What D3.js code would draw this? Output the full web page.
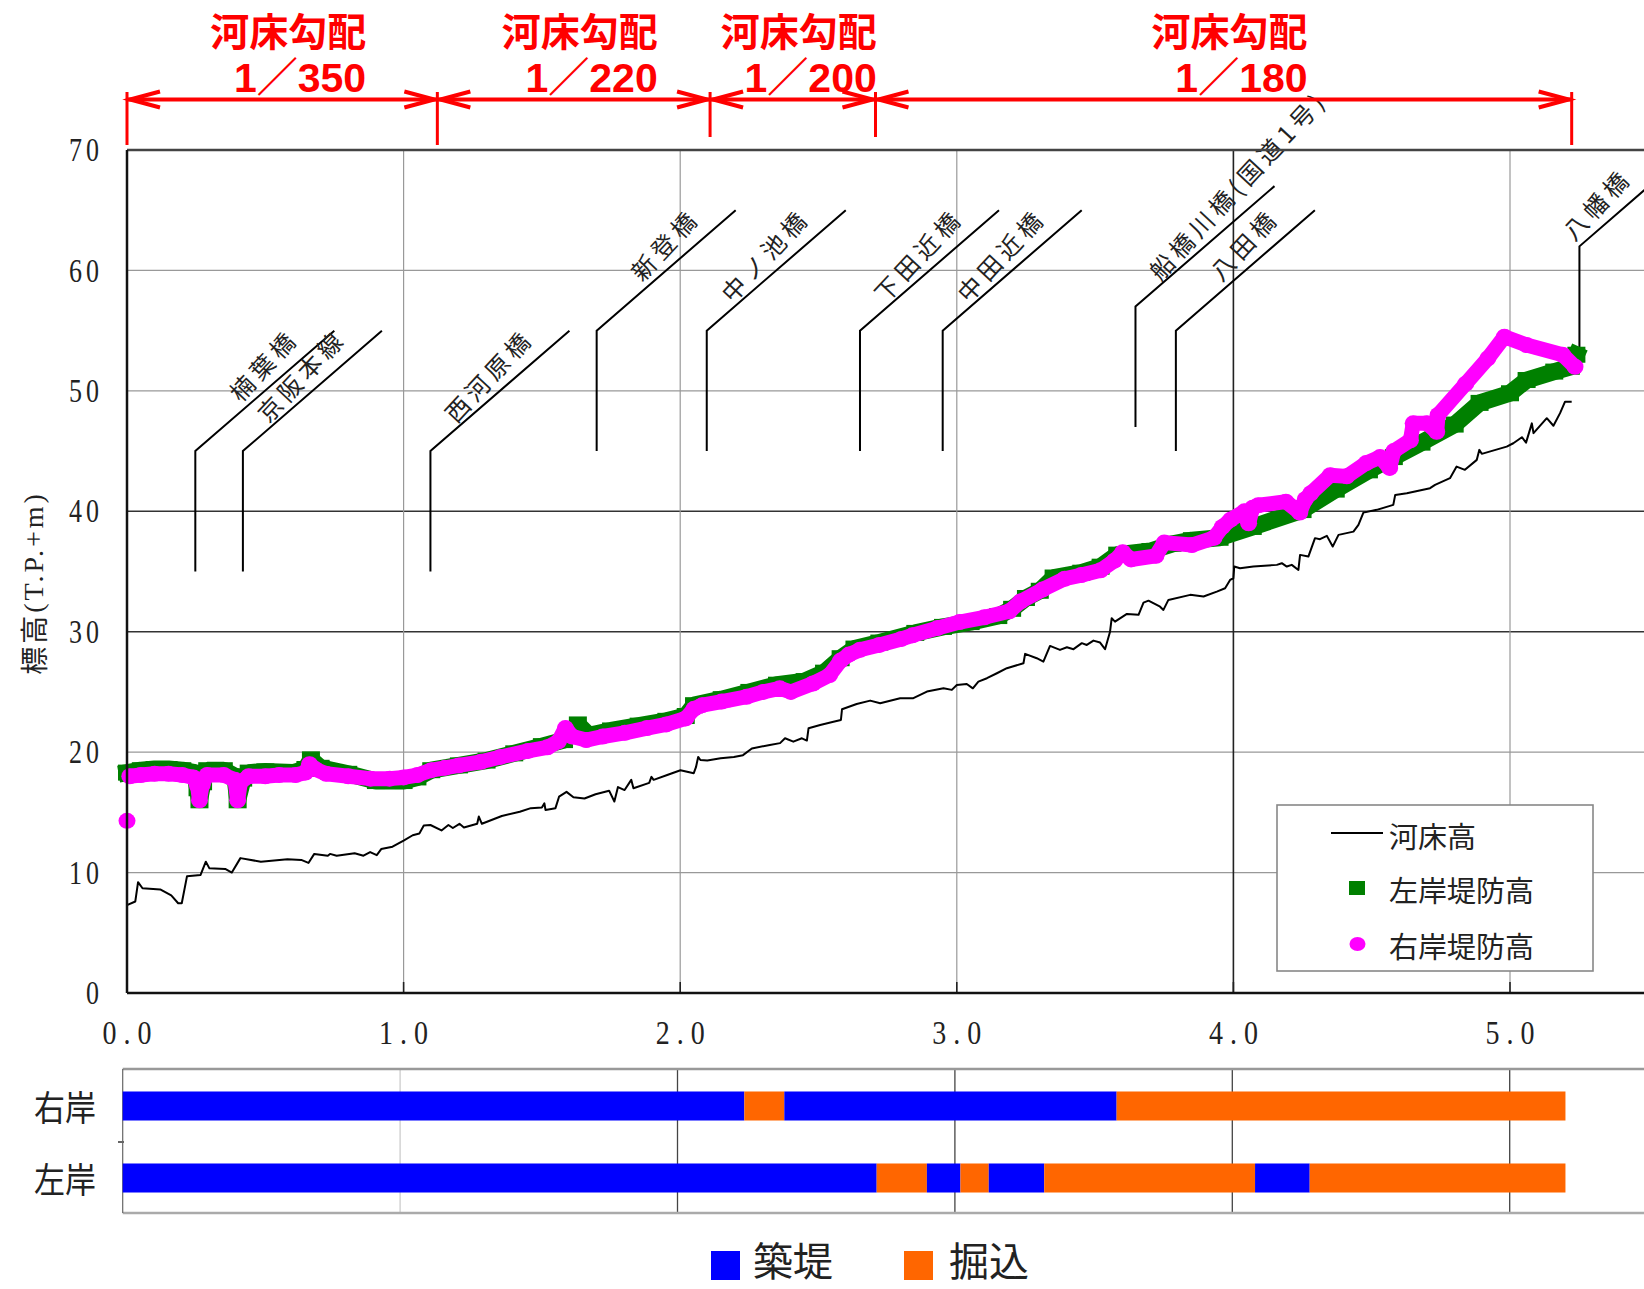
<!DOCTYPE html>
<html>
<head>
<meta charset="utf-8">
<script src="https://d3js.org/d3.v7.min.js"></script>
<style>
  body { margin: 0; background: #ffffff; }
  svg { display: block; }
  text { font-family: "Noto Sans CJK JP", sans-serif; fill: #222222; }
  .num { font-family: "Liberation Serif", "DejaVu Serif", serif; }
  .red { fill: #ff0000; font-weight: 700; }
</style>
</head>
<body>
<div id="chart"></div>
<script>
// ---------------- data ----------------
const xTicks = [0, 1, 2, 3, 4, 5];
const yTicks = [0, 10, 20, 30, 40, 50, 60, 70];

// 河床高 [距離 km, 標高 T.P.+m]
const riverBed = [
  [0.000,7.3],[0.030,7.6],[0.040,9.2],[0.056,8.7],[0.120,8.6],[0.160,8.1],[0.185,7.45],[0.198,7.45],
  [0.217,9.7],[0.266,9.8],[0.285,10.9],[0.298,10.35],[0.355,10.3],[0.379,10.0],[0.410,11.2],[0.484,10.9],
  [0.580,11.1],[0.630,11.05],[0.656,10.8],[0.677,11.55],[0.726,11.4],[0.734,11.55],[0.758,11.4],[0.823,11.6],
  [0.855,11.4],[0.879,11.7],[0.903,11.45],[0.919,11.95],[0.960,12.15],[1.000,12.65],[1.033,13.1],[1.057,13.25],
  [1.073,13.9],[1.097,13.95],[1.137,13.5],[1.162,13.95],[1.178,13.7],[1.202,14.05],[1.218,13.75],[1.266,14.05],
  [1.272,14.65],[1.283,14.05],[1.355,14.7],[1.420,15.05],[1.460,15.35],[1.500,15.4],[1.509,15.75],[1.513,15.2],
  [1.549,15.35],[1.562,16.3],[1.589,16.7],[1.614,16.25],[1.654,16.15],[1.694,16.5],[1.743,16.8],[1.762,15.9],
  [1.775,17.1],[1.799,16.85],[1.823,17.7],[1.831,17.0],[1.888,17.45],[1.896,17.95],[1.904,17.7],[1.953,18.1],
  [2.001,18.5],[2.049,18.25],[2.057,18.75],[2.065,19.6],[2.073,19.35],[2.098,19.3],[2.146,19.5],[2.194,19.6],
  [2.227,19.75],[2.259,20.3],[2.324,20.6],[2.361,20.75],[2.379,21.15],[2.409,20.87],[2.440,21.15],[2.458,20.96],
  [2.464,21.98],[2.506,22.26],[2.554,22.53],[2.581,22.67],[2.585,23.56],[2.638,24.0],[2.687,24.28],[2.723,24.06],
  [2.795,24.48],[2.843,24.48],[2.892,25.03],[2.952,25.3],[2.982,25.17],[3.000,25.58],[3.036,25.66],[3.058,25.3],
  [3.078,25.86],[3.109,26.14],[3.145,26.55],[3.181,26.97],[3.241,27.38],[3.247,28.16],[3.289,27.8],[3.313,27.52],
  [3.337,28.82],[3.373,28.49],[3.398,28.71],[3.422,28.55],[3.452,29.05],[3.470,28.9],[3.494,29.26],[3.518,29.1],
  [3.536,28.55],[3.554,30.0],[3.560,31.12],[3.572,30.84],[3.615,31.48],[3.657,31.4],[3.675,32.42],[3.693,32.58],
  [3.735,32.08],[3.747,31.81],[3.765,32.64],[3.844,33.06],[3.892,32.92],[3.940,33.33],[3.970,33.61],[3.988,34.3],
  [4.000,34.44],[4.003,35.41],[4.024,35.27],[4.072,35.41],[4.157,35.55],[4.175,35.69],[4.193,35.41],[4.211,35.55],
  [4.235,35.13],[4.241,36.38],[4.271,36.24],[4.295,37.77],[4.313,37.68],[4.338,37.96],[4.359,37.07],[4.380,38.04],
  [4.434,38.31],[4.452,38.87],[4.470,39.89],[4.518,40.12],[4.578,40.53],[4.585,41.36],[4.627,41.5],[4.711,41.92],
  [4.729,42.19],[4.783,42.75],[4.807,43.71],[4.837,43.44],[4.880,44.27],[4.889,45.1],[4.898,44.77],[4.988,45.37],
  [5.012,45.65],[5.043,46.15],[5.058,45.7],[5.079,47.3],[5.085,46.49],[5.133,47.73],[5.157,47.1],[5.181,48.15],
  [5.199,49.1],[5.223,49.1]
];

// 左岸堤防高
const leftLevee = [
  [0.00,18.3],[0.05,18.5],[0.10,18.6],[0.15,18.6],[0.20,18.5],[0.245,18.3],[0.255,17.0],[0.262,16.0],
  [0.275,17.5],[0.29,18.5],[0.35,18.5],[0.39,18.0],[0.40,16.0],[0.42,17.8],[0.44,18.3],[0.50,18.4],
  [0.60,18.3],[0.645,18.6],[0.665,19.4],[0.70,18.7],[0.80,18.2],[0.90,17.6],[1.00,17.6],[1.05,17.9],
  [1.10,18.5],[1.20,18.9],[1.30,19.3],[1.40,19.9],[1.50,20.5],[1.58,21.0],[1.63,22.3],[1.67,21.4],
  [1.75,21.8],[1.85,22.2],[1.95,22.6],[2.02,23.0],[2.05,23.9],[2.15,24.4],[2.25,25.0],[2.35,25.6],
  [2.45,25.9],[2.52,26.6],[2.58,27.8],[2.63,28.6],[2.72,29.1],[2.85,29.9],[2.95,30.4],[3.05,30.8],
  [3.15,31.3],[3.20,31.9],[3.25,32.8],[3.30,33.4],[3.35,34.5],[3.45,34.9],[3.52,35.4],[3.58,36.4],
  [3.70,36.7],[3.78,37.3],[3.85,37.6],[3.95,37.8],[4.07,38.7],[4.25,40.1],[4.37,41.8],[4.49,43.4],
  [4.58,44.5],[4.68,45.7],[4.80,47.2],[4.89,49.0],[5.00,49.8],[5.06,50.9],[5.16,51.6],[5.22,52.0],[5.24,53.0]
];

// 右岸堤防高
const rightLevee = [
  [0.01,18.0],[0.05,18.1],[0.10,18.2],[0.15,18.2],[0.20,18.1],[0.24,17.9],[0.255,17.2],[0.262,16.0],
  [0.272,17.3],[0.29,18.1],[0.35,18.1],[0.39,17.7],[0.40,16.0],[0.41,17.5],[0.44,18.0],[0.50,18.0],
  [0.55,18.1],[0.61,18.1],[0.645,18.3],[0.66,19.0],[0.68,18.6],[0.72,18.2],[0.80,18.0],[0.88,17.8],
  [0.95,17.8],[1.00,17.9],[1.05,18.1],[1.10,18.5],[1.15,18.7],[1.20,18.9],[1.28,19.2],[1.35,19.6],
  [1.45,20.1],[1.52,20.4],[1.56,20.9],[1.585,22.0],[1.61,21.3],[1.66,21.0],[1.72,21.3],[1.80,21.6],
  [1.88,22.0],[1.95,22.3],[2.02,22.8],[2.05,23.6],[2.08,23.9],[2.15,24.2],[2.24,24.6],[2.30,25.0],
  [2.36,25.3],[2.40,25.0],[2.48,25.7],[2.54,26.4],[2.58,27.6],[2.61,28.1],[2.65,28.5],[2.72,28.9],
  [2.80,29.4],[2.84,29.7],[2.93,30.3],[3.01,30.8],[3.10,31.2],[3.19,31.7],[3.23,32.5],[3.31,33.5],
  [3.39,34.4],[3.45,34.7],[3.52,35.1],[3.57,35.9],[3.60,36.6],[3.63,36.0],[3.72,36.3],[3.75,37.4],
  [3.85,37.2],[3.93,37.8],[3.96,38.7],[3.99,39.3],[4.04,40.0],[4.055,39.0],[4.07,40.3],[4.09,40.5],
  [4.19,40.8],[4.24,39.9],[4.26,41.0],[4.28,41.5],[4.35,43.0],[4.41,42.9],[4.48,44.0],[4.53,44.5],
  [4.565,43.6],[4.58,45.0],[4.64,45.9],[4.65,47.3],[4.70,47.3],[4.735,46.6],[4.74,48.0],[4.84,50.6],
  [4.92,52.7],[4.98,54.5],[5.06,53.8],[5.19,53.0],[5.235,52.0]
];
const rightLeveeIsolated = [[0.0, 14.3]];

// 河床勾配
const slopeBounds = [0, 1.122, 2.108, 2.706, 5.223];
const slopeRatios = ["1／350", "1／220", "1／200", "1／180"];

// 橋梁
const bridgeNames  = ["楠葉橋", "京阪本線", "西河原橋", "新登橋", "中ノ池橋", "下田近橋", "中田近橋", "船橋川橋(国道1号)", "八田橋", "八幡橋"];
const bridgeKm     = [0.247, 0.419, 1.097, 1.698, 2.096, 2.650, 2.949, 3.646, 3.792, 5.251];
const bridgeBase   = [35, 35, 35, 45, 45, 45, 45, 47, 45, 53];
const bridgeCorner = [45, 45, 45, 55, 55, 55, 55, 57, 55, 62];
const bridgeTop    = [55, 55, 55, 65, 65, 65, 65, 67, 65, 67];

// 築堤・掘込区間
const banks = ["右岸", "左岸"];
const bankTypes = ["築堤", "掘込"];
const rightBankSegs = [[0, 2.241, "築堤"], [2.241, 2.385, "掘込"], [2.385, 3.583, "築堤"], [3.583, 5.201, "掘込"]];
const leftBankSegs = [[0, 2.718, "築堤"], [2.718, 2.899, "掘込"], [2.899, 3.020, "築堤"], [3.020, 3.122, "掘込"],
                      [3.122, 3.322, "築堤"], [3.322, 4.082, "掘込"], [4.082, 4.279, "築堤"], [4.279, 5.201, "掘込"]];

// ---------------- layout ----------------
const W = 1644, H = 1289;
const svg = d3.select("#chart").append("svg").attr("width", W).attr("height", H);

const x = d3.scaleLinear().domain([0, 5.5]).range([127, 127 + 5.5 * 276.6]);
const y = d3.scaleLinear().domain([0, 70]).range([993, 150]);

// grid
const darkY = v => v === 30 || v === 40;
svg.append("g").selectAll("line")
  .data(yTicks.filter(v => v > 0 && v < 70))
  .join("line")
  .attr("x1", x(0)).attr("x2", W)
  .attr("y1", d => y(d)).attr("y2", d => y(d))
  .attr("stroke", d => darkY(d) ? "#333" : "#999")
  .attr("stroke-width", d => darkY(d) ? 1.6 : 1.2);

svg.append("g").selectAll("line")
  .data(xTicks.filter(v => v > 0))
  .join("line")
  .attr("x1", d => x(d)).attr("x2", d => x(d))
  .attr("y1", y(70)).attr("y2", y(0))
  .attr("stroke", d => d === 4 ? "#222" : "#999")
  .attr("stroke-width", d => d === 4 ? 1.6 : 1.2);

// small ticks on the bottom axis
svg.append("g").selectAll("line")
  .data(xTicks.filter(v => v > 0))
  .join("line")
  .attr("x1", d => x(d)).attr("x2", d => x(d))
  .attr("y1", y(0) - 11).attr("y2", y(0))
  .attr("stroke", "#222").attr("stroke-width", 1.6);

// legend box (white, over the grid)
const lg = svg.append("g");
lg.append("rect").attr("x", 1277).attr("y", 805).attr("width", 316).attr("height", 166)
  .attr("fill", "#fff").attr("stroke", "#888").attr("stroke-width", 1.6);
lg.append("line").attr("x1", 1331).attr("x2", 1383).attr("y1", 833).attr("y2", 833)
  .attr("stroke", "#000").attr("stroke-width", 2);
lg.append("rect").attr("x", 1349).attr("y", 881).attr("width", 16).attr("height", 14).attr("fill", "#008000");
lg.append("ellipse").attr("cx", 1357.5).attr("cy", 944).attr("rx", 8).attr("ry", 7).attr("fill", "#ff00ff");
[["河床高", 835], ["左岸堤防高", 889], ["右岸堤防高", 945]].forEach(([t, cy]) => {
  lg.append("text").attr("x", 1389).attr("y", cy).attr("dominant-baseline", "central")
    .attr("font-size", 29).attr("fill", "#222").text(t);
});

// bridges
const slopePx = (y(45) - y(55)) / 139;   // vertical px per horizontal px of the leader
const ang = 47;
const ca = Math.cos(ang * Math.PI / 180), sa = Math.sin(ang * Math.PI / 180);
const bg = svg.append("g");
bridgeNames.forEach((name, i) => {
  const kx = x(bridgeKm[i]);
  const yb = y(bridgeBase[i]), yc = y(bridgeCorner[i]), yt = y(bridgeTop[i]);
  const dx = (yc - yt) / slopePx;
  bg.append("path")
    .attr("d", `M${kx},${yb} L${kx},${yc} L${kx + dx},${yt}`)
    .attr("fill", "none").attr("stroke", "#000").attr("stroke-width", 2);

  const t = bg.append("text").attr("font-size", 24).attr("letter-spacing", 5)
    .attr("fill", "#333").text(name);
  const len = t.node().getComputedTextLength() - 5;
  const ex = kx + 0.73 * dx;
  const ey = yc - 0.73 * dx * slopePx - 20;
  let sx = ex - len * ca, sy = ey + len * sa;
  if (sx < kx - 10) {
    // long label: start just after the bend
    sx = kx + 25;
    sy = yc - 25 * slopePx - 3;
  }
  t.attr("transform", `translate(${sx},${sy}) rotate(${-ang})`);
});

// levees
const line = d3.line().x(d => x(d[0])).y(d => y(d[1]));

svg.append("path").datum(leftLevee).attr("d", line)
  .attr("fill", "none").attr("stroke", "#008000").attr("stroke-width", 17)
  .attr("stroke-linejoin", "bevel").attr("stroke-linecap", "square");
svg.append("g").selectAll("rect").data(leftLevee).join("rect")
  .attr("x", d => x(d[0]) - 9).attr("y", d => y(d[1]) - 8)
  .attr("width", 18).attr("height", 16).attr("fill", "#008000");

svg.append("path").datum(rightLevee).attr("d", line)
  .attr("fill", "none").attr("stroke", "#ff00ff").attr("stroke-width", 15)
  .attr("stroke-linejoin", "round").attr("stroke-linecap", "round");
svg.append("g").selectAll("ellipse").data(rightLevee.concat(rightLeveeIsolated)).join("ellipse")
  .attr("cx", d => x(d[0])).attr("cy", d => y(d[1]))
  .attr("rx", 8.5).attr("ry", 8).attr("fill", "#ff00ff");

// river bed
svg.append("path").datum(riverBed).attr("d", line)
  .attr("fill", "none").attr("stroke", "#000").attr("stroke-width", 2)
  .attr("stroke-linejoin", "round");

// frame
svg.append("line").attr("x1", x(0)).attr("x2", W).attr("y1", y(70)).attr("y2", y(70))
  .attr("stroke", "#444").attr("stroke-width", 2.5);
svg.append("line").attr("x1", x(0)).attr("x2", W).attr("y1", y(0)).attr("y2", y(0))
  .attr("stroke", "#111").attr("stroke-width", 2.5);
svg.append("line").attr("x1", x(0)).attr("x2", x(0)).attr("y1", y(70)).attr("y2", y(0))
  .attr("stroke", "#111").attr("stroke-width", 2.5);

// tick labels
svg.append("g").selectAll("text").data(yTicks).join("text")
  .attr("class", "num")
  .attr("transform", d => `translate(103,${y(d)}) scale(1,1.3)`)
  .attr("text-anchor", "end").attr("dominant-baseline", "central")
  .attr("font-size", 26).attr("letter-spacing", 4)
  .text(d => d);

svg.append("g").selectAll("text").data(xTicks).join("text")
  .attr("class", "num")
  .attr("transform", d => `translate(${x(d) + 3.5},1033) scale(1,1.17)`)
  .attr("text-anchor", "middle").attr("dominant-baseline", "central")
  .attr("font-size", 28).attr("letter-spacing", 7)
  .text(d => d3.format(".1f")(d));

// y axis title
const yTitle = svg.append("text")
  .attr("transform", "translate(33,583) rotate(-90)")
  .attr("text-anchor", "middle").attr("dominant-baseline", "central")
  .attr("font-size", 28);
yTitle.append("tspan").attr("letter-spacing", 3).text("標高");
yTitle.append("tspan").attr("class", "num").attr("letter-spacing", 3).text("(T.P.+m)");

// ---------------- 河床勾配 annotation ----------------
const red = svg.append("g");
const ay = 99.5;
red.append("line").attr("x1", x(slopeBounds[0])).attr("x2", x(slopeBounds[slopeBounds.length - 1]))
  .attr("y1", ay).attr("y2", ay).attr("stroke", "#ff0000").attr("stroke-width", 4);
slopeBounds.forEach((b, i) => {
  const inner = i === 2 || i === 3;
  red.append("line").attr("x1", x(b)).attr("x2", x(b))
    .attr("y1", 92).attr("y2", inner ? 137 : 145)
    .attr("stroke", "#ff0000").attr("stroke-width", 3);
});
slopeRatios.forEach((r, i) => {
  const xa = x(slopeBounds[i]), xz = x(slopeBounds[i + 1]);
  red.append("path").attr("d", `M${xa + 33},${ay - 8} L${xa + 3},${ay} L${xa + 33},${ay + 8}`)
    .attr("fill", "none").attr("stroke", "#ff0000").attr("stroke-width", 4);
  red.append("path").attr("d", `M${xz - 33},${ay - 8} L${xz - 3},${ay} L${xz - 33},${ay + 8}`)
    .attr("fill", "none").attr("stroke", "#ff0000").attr("stroke-width", 4);
  const mid = (xa + xz) / 2 + 6;
  const t1 = red.append("text").attr("class", "red").attr("x", mid).attr("y", 29)
    .attr("text-anchor", "middle").attr("dominant-baseline", "central")
    .attr("font-size", 39).text("河床勾配");
  const half = t1.node().getComputedTextLength() / 2;
  red.append("text").attr("class", "red")
    .style("font-family", "'Liberation Sans', 'Noto Sans CJK JP', sans-serif")
    .attr("x", mid + half).attr("y", 91.5).attr("text-anchor", "end")
    .attr("font-size", 41).text(r);
});

// ---------------- 築堤・掘込 panel ----------------
const xb = d3.scaleLinear().domain([0, 5.5]).range([122.7, 122.7 + 5.5 * 277.4]);
const band = d3.scaleBand().domain(banks).range([1070, 1214]).paddingInner(0.597).paddingOuter(0.2985);
const typeColor = d3.scaleOrdinal().domain(bankTypes).range(["#0000ff", "#ff6600"]);

const bp = svg.append("g");
bp.selectAll(".vg").data(xTicks.filter(v => v > 0)).join("line")
  .attr("x1", d => xb(d)).attr("x2", d => xb(d)).attr("y1", 1069).attr("y2", 1213)
  .attr("stroke", d => d === 1 ? "#ccc" : "#444").attr("stroke-width", 1.3);
bp.append("line").attr("x1", xb(0)).attr("x2", W).attr("y1", 1069).attr("y2", 1069)
  .attr("stroke", "#999").attr("stroke-width", 2.5);
bp.append("line").attr("x1", xb(0)).attr("x2", W).attr("y1", 1213).attr("y2", 1213)
  .attr("stroke", "#aaa").attr("stroke-width", 2.5);
bp.append("line").attr("x1", xb(0)).attr("x2", xb(0)).attr("y1", 1069).attr("y2", 1213)
  .attr("stroke", "#666").attr("stroke-width", 1.2);
bp.append("line").attr("x1", 118).attr("x2", 124).attr("y1", 1142).attr("y2", 1142)
  .attr("stroke", "#666").attr("stroke-width", 2);

[[banks[0], rightBankSegs], [banks[1], leftBankSegs]].forEach(([bank, segs]) => {
  bp.append("g").selectAll("rect").data(segs).join("rect")
    .attr("x", d => xb(d[0])).attr("width", d => xb(d[1]) - xb(d[0]))
    .attr("y", band(bank)).attr("height", band.bandwidth())
    .attr("fill", d => typeColor(d[2]));
  bp.append("text")
    .attr("transform", `translate(96,${band(bank) + band.bandwidth() / 2}) scale(1,1.15)`)
    .attr("text-anchor", "end").attr("dominant-baseline", "central")
    .attr("font-size", 31).attr("fill", "#333").text(bank);
});

// bottom legend
const bl = svg.append("g");
[[bankTypes[0], 711, 753], [bankTypes[1], 904, 949]].forEach(([t, sx, tx]) => {
  bl.append("rect").attr("x", sx).attr("y", 1251).attr("width", 29).attr("height", 29)
    .attr("fill", typeColor(t));
  bl.append("text").attr("x", tx).attr("y", 1259).attr("dominant-baseline", "central")
    .attr("font-size", 40).attr("fill", "#111").text(t);
});
</script>
</body>
</html>
